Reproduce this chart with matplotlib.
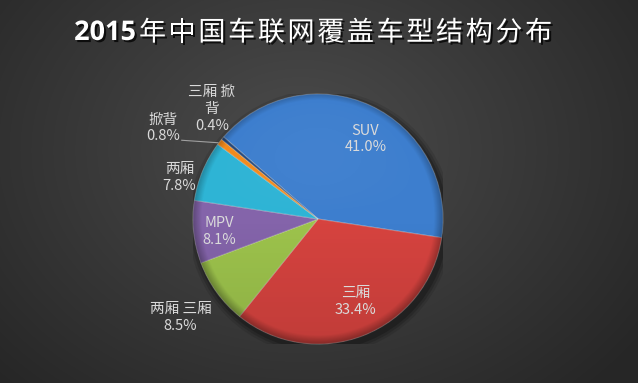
import numpy as np
import matplotlib
matplotlib.use("Agg")
import matplotlib.pyplot as plt
import matplotlib.patheffects as pe
from matplotlib.patches import Circle

plt.rcParams['font.family'] = ['Noto Sans CJK SC', 'DejaVu Sans']

# --- data -------------------------------------------------------------
title_year = "2015"
title_rest = "年中国车联网覆盖车型结构分布"
categories = ["SUV", "三厢", "两厢 三厢", "MPV", "两厢", "掀背", "三厢 掀背"]
shares = [41.0, 33.4, 8.5, 8.1, 7.8, 0.8, 0.4]
label_texts = ["SUV", "三厢", "两厢 三厢", "MPV", "两厢", "掀背", "三厢 掀\n背"]

colors = ["#3D7ECE", "#D6433F", "#9DC34C", "#8464AA", "#2EB4D5", "#F28A1C", "#24477A"]

W, H, DPI = 638, 383, 100
fig = plt.figure(figsize=(W / DPI, H / DPI), dpi=DPI)

# radial background gradient
bg = fig.add_axes([0, 0, 1, 1])
yy, xx = np.mgrid[0:H, 0:W]
d = np.sqrt(((xx - 300) / 420.0) ** 2 + ((yy - 150) / 330.0) ** 2)
lum = np.clip(0.30 - 0.15 * d, 0.15, 0.31)
bg.imshow(np.dstack([lum, lum, lum]), extent=[0, 1, 0, 1], aspect="auto",
          origin="upper", interpolation="bilinear")
bg.set_axis_off()

# title: bold year followed by letter-spaced CJK text
shadow = [pe.withSimplePatchShadow(offset=(1.5, -1.5), shadow_rgbFace="black", alpha=0.75)]
ty = 1 - 33 / H
fig.text(136 / W, ty, title_year, ha="right", va="center", color="white",
         fontsize=19.5, fontweight="bold", family=["Open Sans", "DejaVu Sans"],
         path_effects=shadow)
pitch = 29.7
for i, ch in enumerate(title_rest):
    fig.text((139 + i * pitch) / W, ty, ch, ha="left", va="center", color="white",
             fontsize=19.5, fontweight="light", path_effects=shadow)

# pie axes: centre (318, 219) px, radius 125 px
cx, cy, r = 318, 219, 125
ax = fig.add_axes([(cx - r) / W, (H - cy - r) / H, 2 * r / W, 2 * r / H])
ax.set_xlim(-1, 1)
ax.set_ylim(-1, 1)
ax.set_aspect("equal")
ax.set_axis_off()

# soft shadow under the pie
for k, a in zip([1.06, 1.04, 1.02], [0.10, 0.15, 0.2]):
    ax.add_patch(Circle((0.02, -0.03), k, color="black", alpha=a, lw=0, zorder=0))

wedges, _ = ax.pie(shares, colors=colors, startangle=139, counterclock=False,
                   radius=1.0, wedgeprops=dict(linewidth=0.8, edgecolor=(1, 1, 1, 0.25)),
                   frame=False)
for w in wedges:
    w.set_zorder(2)

# bevel / lighting overlay clipped to the disc
n = 400
gy, gx = np.mgrid[1:-1:n * 1j, -1:1:n * 1j]
rr = np.sqrt(gx ** 2 + gy ** 2)
shade = np.zeros((n, n, 4))
alpha = 0.10 * (-gy) + 0.28 * np.clip((rr - 0.93) / 0.07, 0, 1)
shade[..., 3] = np.clip(alpha, 0, 0.4)
im = ax.imshow(shade, extent=[-1, 1, -1, 1], zorder=3, interpolation="bilinear")
im.set_clip_path(Circle((0, 0), 1.0, transform=ax.transData))
hl = np.zeros((n, n, 4)); hl[..., :3] = 1
hl[..., 3] = np.clip(0.12 * np.clip(gy, 0, 1) * (1 - rr), 0, 0.12)
im2 = ax.imshow(hl, extent=[-1, 1, -1, 1], zorder=3, interpolation="bilinear")
im2.set_clip_path(Circle((0, 0), 1.0, transform=ax.transData))
ax.set_xlim(-1, 1)
ax.set_ylim(-1, 1)

# data labels (positions in pie units)
label_pos = [(0.38, 0.64), (0.30, -0.66), (-1.10, -0.79), (-0.79, -0.10),
             (-1.11, 0.33), (-1.24, 0.73), (-0.85, 0.88)]
txt_color = "#DADADA"
for txt, val, (lx, ly) in zip(label_texts, shares, label_pos):
    ax.text(lx, ly, f"{txt}\n{val:.1f}%", ha="center", va="center", color=txt_color,
            fontsize=10.5, linespacing=1.25, zorder=5, clip_on=False)

# leader line for the 0.8% slice
ax.plot([-1.09, -0.80], [0.63, 0.61], color="#A0A0A0", lw=0.8, zorder=5, clip_on=False)

fig.savefig("out.png", dpi=DPI)
